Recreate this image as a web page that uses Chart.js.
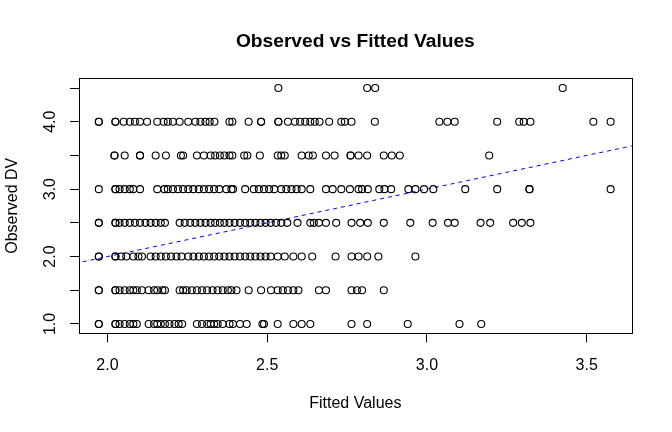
<!DOCTYPE html>
<html>
<head>
<meta charset="utf-8">
<script src="https://cdn.jsdelivr.net/npm/chart.js@4.4.0/dist/chart.umd.min.js"></script>
<style>
    html, body { margin: 0; padding: 0; background: #fff; }
    #wrap { width: 672px; height: 432px; }
</style>
</head>
<body>
<div id="wrap"><canvas id="chart" width="672" height="432"></canvas></div>
<script>
// fitted values, one list for each observed DV level
var fitted_45 = [2.535, 2.813, 2.838, 3.425];
var fitted_40 = [1.973, 1.973, 2.025, 2.025, 2.051, 2.070, 2.086, 2.102, 2.124, 2.156, 2.176, 2.189, 2.205, 2.226,
    2.253, 2.275, 2.291, 2.307, 2.320, 2.335, 2.382, 2.391, 2.442, 2.481, 2.481, 2.535, 2.535, 2.565, 2.587, 2.603,
    2.619, 2.635, 2.649, 2.664, 2.694, 2.732, 2.743, 2.764, 2.837, 3.039, 3.064, 3.087, 3.220, 3.289, 3.303,
    3.324, 3.521, 3.575];
var fitted_35 = [2.022, 2.022, 2.054, 2.102, 2.102, 2.151, 2.183, 2.230, 2.237, 2.280, 2.302, 2.323, 2.337, 2.352,
    2.366, 2.382, 2.391, 2.428, 2.438, 2.477, 2.533, 2.544, 2.555, 2.608, 2.630, 2.643, 2.684, 2.711, 2.761,
    2.761, 2.786, 2.813, 2.865, 2.890, 2.915, 3.195];
var fitted_30 = [1.973, 2.025, 2.025, 2.038, 2.054, 2.070, 2.081, 2.102, 2.156, 2.178, 2.189, 2.205, 2.221, 2.237,
    2.253, 2.269, 2.286, 2.302, 2.318, 2.334, 2.350, 2.372, 2.388, 2.393, 2.431, 2.458, 2.474, 2.490, 2.506,
    2.522, 2.544, 2.560, 2.576, 2.592, 2.608, 2.635, 2.684, 2.705, 2.732, 2.759, 2.786, 2.797, 2.815, 2.851,
    2.867, 2.888, 2.942, 2.964, 2.991, 3.020, 3.120, 3.220, 3.321, 3.321, 3.575];
var fitted_25 = [1.973, 1.973, 2.025, 2.025, 2.038, 2.054, 2.070, 2.086, 2.102, 2.119, 2.135, 2.151, 2.167, 2.180,
    2.226, 2.242, 2.259, 2.275, 2.291, 2.307, 2.323, 2.337, 2.352, 2.366, 2.382, 2.398, 2.415, 2.431, 2.447,
    2.463, 2.479, 2.495, 2.511, 2.528, 2.544, 2.563, 2.595, 2.635, 2.646, 2.662, 2.684, 2.716, 2.764, 2.791,
    2.815, 2.865, 2.948, 3.018, 3.066, 3.087, 3.168, 3.198, 3.270, 3.297, 3.324];
var fitted_20 = [1.973, 1.973, 2.025, 2.025, 2.043, 2.059, 2.081, 2.097, 2.108, 2.135, 2.151, 2.167, 2.183, 2.199,
    2.216, 2.232, 2.253, 2.269, 2.286, 2.302, 2.318, 2.334, 2.350, 2.366, 2.382, 2.398, 2.415, 2.431, 2.447,
    2.463, 2.479, 2.495, 2.511, 2.533, 2.555, 2.582, 2.608, 2.641, 2.714, 2.764, 2.786, 2.813, 2.848, 2.964];
var fitted_15 = [1.973, 1.973, 2.025, 2.025, 2.038, 2.054, 2.070, 2.081, 2.092, 2.108, 2.129, 2.146, 2.156, 2.172,
    2.180, 2.226, 2.237, 2.248, 2.264, 2.280, 2.296, 2.312, 2.329, 2.345, 2.361, 2.377, 2.388, 2.404, 2.442,
    2.481, 2.512, 2.533, 2.549, 2.565, 2.582, 2.598, 2.662, 2.684, 2.764, 2.781, 2.797, 2.865];
var fitted_10 = [1.973, 1.973, 2.025, 2.025, 2.038, 2.054, 2.070, 2.081, 2.092, 2.129, 2.146, 2.156, 2.167, 2.180,
    2.194, 2.210, 2.223, 2.234, 2.280, 2.296, 2.312, 2.323, 2.334, 2.345, 2.361, 2.382, 2.393, 2.415, 2.436,
    2.485, 2.490, 2.533, 2.582, 2.608, 2.635, 2.764, 2.813, 2.940, 3.102, 3.170];

var observed_levels = [1.0, 1.5, 2.0, 2.5, 3.0, 3.5, 4.0, 4.5];
var fitted_by_level = [fitted_10, fitted_15, fitted_20, fitted_25, fitted_30, fitted_35, fitted_40, fitted_45];

// abline(0, 1): observed == fitted
var ref_line = [1.8, 3.8];

var x_ticks = ['2.0', '2.5', '3.0', '3.5'];
var y_tick_labels = ['1.0', '2.0', '3.0', '4.0'];

var FONT = '"Liberation Sans", Arial, Helvetica, sans-serif';

var points = [];
for (let i = 0; i < observed_levels.length; i++) {
    for (let j = 0; j < fitted_by_level[i].length; j++) {
        points.push({x: fitted_by_level[i][j], y: observed_levels[i]});
    }
}

// box, title, axis labels the way base R lays them out
var rPlotDecor = {
    id: 'rPlotDecor',
    afterDraw: function(chart) {
        var ctx = chart.ctx;
        var a = chart.chartArea;
        var ys = chart.scales.y;
        ctx.save();
        ctx.strokeStyle = '#000';
        ctx.lineWidth = 1;
        ctx.strokeRect(Math.round(a.left) + 0.5, Math.round(a.top) + 0.5,
            Math.round(a.right - a.left), Math.round(a.bottom - a.top));

        ctx.fillStyle = '#000';
        ctx.textAlign = 'center';
        ctx.textBaseline = 'alphabetic';
        ctx.font = 'bold 19.2px ' + FONT;
        ctx.fillText('Observed vs Fitted Values', (a.left + a.right) / 2, 46.7);

        ctx.font = '16px ' + FONT;
        ctx.fillText('Fitted Values', (a.left + a.right) / 2, 408.3);

        for (let k = 0; k < y_tick_labels.length; k++) {
            let py = ys.getPixelForValue(parseFloat(y_tick_labels[k]));
            ctx.save();
            ctx.translate(55, py);
            ctx.rotate(-Math.PI / 2);
            ctx.fillText(y_tick_labels[k], 0, 0);
            ctx.restore();
        }

        ctx.translate(16.7, (a.top + a.bottom) / 2);
        ctx.rotate(-Math.PI / 2);
        ctx.fillText('Observed DV', 0, 0);
        ctx.restore();
    }
};

new Chart(document.getElementById('chart'), {
    type: 'scatter',
    data: {
        datasets: [{
            data: points,
            pointStyle: 'circle',
            pointRadius: 3.5,
            pointHoverRadius: 3.5,
            pointBorderWidth: 1.1,
            pointBorderColor: '#000',
            pointBackgroundColor: 'rgba(0,0,0,0)'
        }, {
            type: 'line',
            data: ref_line.map(function(v) { return {x: v, y: v}; }),
            borderColor: '#0000ff',
            borderWidth: 1,
            borderDash: [4, 4],
            pointRadius: 0,
            fill: false
        }]
    },
    options: {
        responsive: false,
        animation: false,
        events: [],
        layout: {padding: {left: 0, right: 40.3, top: 78.3, bottom: 0}},
        plugins: {
            legend: {display: false},
            title: {display: false},
            tooltip: {enabled: false}
        },
        scales: {
            x: {
                type: 'linear',
                min: 1.911,
                max: 3.641,
                border: {display: true, color: '#000', width: 1},
                grid: {drawOnChartArea: false, drawTicks: true, tickLength: 9, color: '#000'},
                ticks: {
                    stepSize: 0.5,
                    includeBounds: false,
                    color: '#000',
                    padding: 14,
                    maxRotation: 0,
                    font: {family: FONT, size: 16},
                    callback: function(v) {
                        let s = v.toFixed(1);
                        return x_ticks.indexOf(s) >= 0 ? s : '';
                    }
                },
                afterFit: function(scale) { scale.height = 98.7; }
            },
            y: {
                type: 'linear',
                min: 0.862,
                max: 4.644,
                border: {display: true, color: '#000', width: 1},
                grid: {drawOnChartArea: false, drawTicks: true, tickLength: 9, color: '#000'},
                ticks: {
                    stepSize: 0.5,
                    includeBounds: false,
                    callback: function() { return ''; }
                },
                afterFit: function(scale) { scale.width = 79; }
            }
        }
    },
    plugins: [rPlotDecor]
});
</script>
</body>
</html>
